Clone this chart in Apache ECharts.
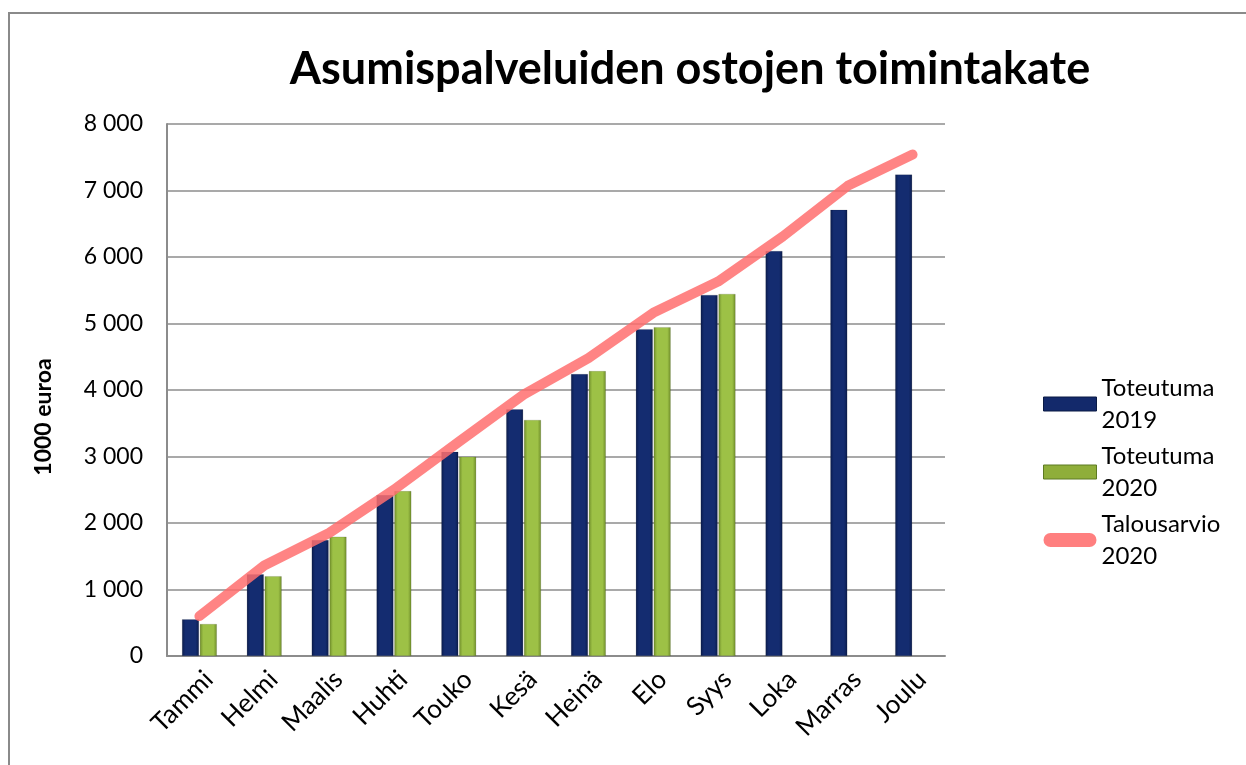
<!DOCTYPE html>
<html>
<head>
<meta charset="utf-8">
<script src="https://cdn.jsdelivr.net/npm/echarts@6/dist/echarts.min.js"></script>
<style>
html,body{margin:0;padding:0;background:#fff;}
#frame{position:absolute;left:8px;top:12px;width:1300px;height:800px;border-left:2px solid #8a8a8a;border-top:2px solid #8a8a8a;box-sizing:border-box;}
#chart{position:absolute;left:0;top:0;width:1246px;height:765px;}
</style>
</head>
<body>
<div id="frame"></div>
<div id="chart"></div>
<script>
const months = ['Tammi','Helmi','Maalis','Huhti','Touko','Kesä','Heinä','Elo','Syys','Loka','Marras','Joulu'];
const toteutuma2019 = [552, 1230, 1745, 2420, 3070, 3710, 4240, 4915, 5430, 6090, 6710, 7240];
const toteutuma2020 = [481, 1200, 1795, 2480, 2997, 3550, 4285, 4945, 5445, null, null, null];
const talousarvio2020 = [600, 1360, 1850, 2500, 3220, 3930, 4480, 5160, 5630, 6310, 7070, 7540];
const yTicks = [0, 1000, 2000, 3000, 4000, 5000, 6000, 7000, 8000];

const FONT = 'Lato';
function fmt(v){ return v === 0 ? '0' : String(v).replace(/\B(?=(\d{3})+(?!\d))/g, ' '); }

const chart = echarts.init(document.getElementById('chart'), null, {renderer:'canvas'});
chart.setOption({
  backgroundColor: 'transparent',
  animation: false,
  textStyle: {fontFamily: FONT},
  title: {
    text: 'Asumispalveluiden ostojen toimintakate',
    left: 685, top: 42, textAlign: 'center',
    textStyle: {fontFamily: FONT, fontWeight: 'bold', fontSize: 45, color: '#000'}
  },
  grid: {left: 167, right: 301, top: 124, bottom: 109, containLabel: false},
  legend: {
    orient: 'vertical',
    left: 1043, top: 356, padding: 0,
    itemWidth: 53, itemHeight: 14, itemGap: -28,
    textStyle: {fontFamily: FONT, fontSize: 24, color: '#000', lineHeight: 32, padding: [32,0,0,0]},
    formatter: function(n){ const i = n.lastIndexOf(' '); return n.slice(0,i) + '\n' + n.slice(i+1); },
    data: [
      {name:'Toteutuma 2019', icon:'rect', itemStyle:{color:'#13296B', borderColor:'#0a1a45', borderWidth:1}},
      {name:'Toteutuma 2020', icon:'rect', itemStyle:{color:'#8fae3a', borderColor:'#5d7a22', borderWidth:1}},
      {name:'Talousarvio 2020', icon:'path://M7,0 L46,0 A7,7 0 0 1 46,14 L7,14 A7,7 0 0 1 7,0 Z', itemStyle:{color:'#ff7f7f'}}
    ]
  },
  xAxis: {
    type: 'category', data: months,
    axisLine: {lineStyle: {color: '#8c8c8c', width: 2}},
    axisTick: {show: false},
    axisLabel: {rotate: 45, fontFamily: FONT, fontSize: 26, color: '#000', margin: 10, interval: 0, verticalAlign: 'top'}
  },
  yAxis: {
    type: 'value', min: 0, max: 8000, interval: 1000,
    name: '1000 euroa', nameLocation: 'middle', nameGap: 112, nameRotate: 90,
    nameTextStyle: {fontFamily: FONT, fontWeight: 'bold', fontSize: 23, color: '#000', padding:[0,54,0,0]},
    axisLine: {show: true, lineStyle: {color: '#8c8c8c', width: 2}},
    axisTick: {show: false},
    splitLine: {lineStyle: {color: '#8c8c8c', width: 1.5}},
    axisLabel: {fontFamily: FONT, fontSize: 23, color: '#000', margin: 24, formatter: fmt}
  },
  series: [
    {
      name: 'Toteutuma 2019', type: 'bar', data: toteutuma2019,
      barWidth: 17, barGap: '5%',
      itemStyle: {
        color: new echarts.graphic.LinearGradient(0,0,1,0,[
          {offset:0, color:'#0b1c4c'},{offset:0.2, color:'#142c70'},{offset:0.8, color:'#142c70'},{offset:1, color:'#0b1c4c'}
        ]),
        borderColor:'rgba(0,0,0,0.25)', borderWidth: 0.5
      }
    },
    {
      name: 'Toteutuma 2020', type: 'bar', data: toteutuma2020,
      barWidth: 17,
      itemStyle: {
        color: new echarts.graphic.LinearGradient(0,0,1,0,[
          {offset:0, color:'#6f8d2a'},{offset:0.2, color:'#9dc146'},{offset:0.8, color:'#9dc146'},{offset:1, color:'#6f8d2a'}
        ]),
        borderColor:'rgba(0,0,0,0.25)', borderWidth: 0.5
      }
    },
    {
      name: 'Talousarvio 2020', type: 'line', data: talousarvio2020,
      symbol: 'none', z: 5,
      lineStyle: {color: 'rgba(255,110,110,0.85)', width: 10, cap: 'round', join: 'round'},
      itemStyle: {color: '#ff7f7f'}
    }
  ]
});
</script>
</body>
</html>
